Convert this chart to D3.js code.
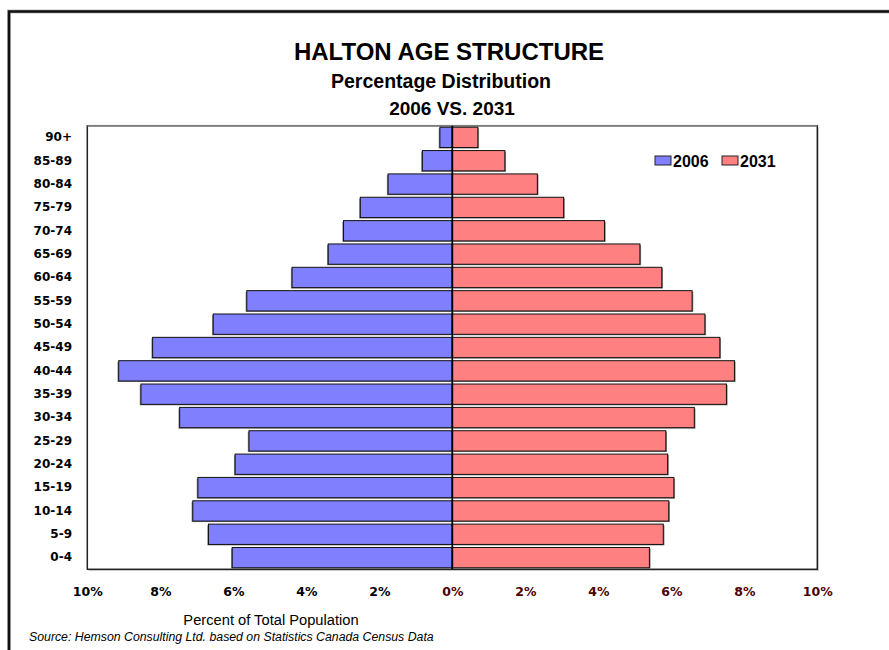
<!DOCTYPE html>
<html>
<head>
<meta charset="utf-8">
<script src="https://cdn.jsdelivr.net/npm/d3@7"></script>
<style>
  html, body { margin: 0; padding: 0; background: #fff; }
  svg { display: block; }
</style>
</head>
<body>
<svg id="chart" width="889" height="650"></svg>
<script>
// ---- Data ----
const ageGroups = ["0-4","5-9","10-14","15-19","20-24","25-29","30-34","35-39","40-44","45-49",
                   "50-54","55-59","60-64","65-69","70-74","75-79","80-84","85-89","90+"];
const values2006 = [6.03, 6.68, 7.11, 6.97, 5.95, 5.57, 7.47, 8.53, 9.14, 8.21,
                    6.55, 5.63, 4.39, 3.40, 2.98, 2.52, 1.76, 0.82, 0.34];
const values2031 = [5.40, 5.78, 5.93, 6.07, 5.90, 5.85, 6.63, 7.51, 7.73, 7.33,
                    6.92, 6.57, 5.74, 5.14, 4.17, 3.05, 2.33, 1.44, 0.70];
const seriesNames = ["2006", "2031"];
const xTicks = [-10, -8, -6, -4, -2, 0, 2, 4, 6, 8, 10];
const titleLines = ["HALTON AGE STRUCTURE", "Percentage Distribution", "2006 VS. 2031"];
const xAxisTitle = "Percent of Total Population";
const sourceText = "Source: Hemson Consulting Ltd. based on Statistics Canada Census Data";

// ---- Layout ----
const svg = d3.select("#chart");
const plot = { left: 87.3, right: 817.3, top: 125.7, bottom: 569.3 };
const colors = { "2006": "#8080FF", "2031": "#FF8080" };

const x = d3.scaleLinear().domain([-10, 10]).range([plot.left, plot.right]);
const y = d3.scaleBand()
  .domain(ageGroups.slice().reverse())
  .range([plot.top, plot.bottom])
  .paddingInner(0.13)
  .paddingOuter(0.065);

// outer frame (cropped)
svg.append("path")
  .attr("d", "M9,660 V11.5 H900")
  .attr("fill", "none")
  .attr("stroke", "#bbb")
  .attr("stroke-width", 4);
svg.append("path")
  .attr("d", "M9,660 V11.5 H900")
  .attr("fill", "none")
  .attr("stroke", "#111")
  .attr("stroke-width", 2.5);

// title
const titleFont = "'Liberation Sans', Arial, sans-serif";
svg.append("text").attr("x", 449).attr("y", 60)
  .attr("text-anchor", "middle").attr("font-family", titleFont)
  .attr("font-weight", "bold").attr("font-size", 24).attr("fill", "#000")
  .text(titleLines[0]);
svg.append("text").attr("x", 441).attr("y", 88)
  .attr("text-anchor", "middle").attr("font-family", titleFont)
  .attr("font-weight", "bold").attr("font-size", 19.5).attr("fill", "#000")
  .text(titleLines[1]);
svg.append("text").attr("x", 452).attr("y", 115)
  .attr("text-anchor", "middle").attr("font-family", titleFont)
  .attr("font-weight", "bold").attr("font-size", 19).attr("fill", "#000")
  .text(titleLines[2]);

// plot frame shadow + background
svg.append("rect")
  .attr("x", plot.left + 1.5).attr("y", plot.top + 1.5)
  .attr("width", plot.right - plot.left).attr("height", plot.bottom - plot.top)
  .attr("fill", "#c8c8c8");
svg.append("rect")
  .attr("x", plot.left).attr("y", plot.top)
  .attr("width", plot.right - plot.left).attr("height", plot.bottom - plot.top)
  .attr("fill", "#fff").attr("stroke", "#222").attr("stroke-width", 1.5);
svg.append("line")
  .attr("x1", plot.left).attr("x2", plot.right)
  .attr("y1", plot.top).attr("y2", plot.top)
  .attr("stroke", "#808080").attr("stroke-width", 1.5);

// bars
const rows = ageGroups.map((g, i) => ({ group: g, v2006: values2006[i], v2031: values2031[i] }));
const bars = svg.append("g");

// shadows
bars.selectAll("rect.s2006").data(rows).enter().append("rect")
  .attr("x", d => x(-d.v2006) - 1.2)
  .attr("y", d => y(d.group) + 1)
  .attr("width", d => x(0) - x(-d.v2006))
  .attr("height", y.bandwidth())
  .attr("fill", "#8a8a8a");
bars.selectAll("rect.s2031").data(rows).enter().append("rect")
  .attr("x", x(0) + 1.2)
  .attr("y", d => y(d.group) + 1)
  .attr("width", d => x(d.v2031) - x(0))
  .attr("height", y.bandwidth())
  .attr("fill", "#8a8a8a");

bars.selectAll("rect.b2006").data(rows).enter().append("rect")
  .attr("x", d => x(-d.v2006))
  .attr("y", d => y(d.group))
  .attr("width", d => x(0) - x(-d.v2006))
  .attr("height", y.bandwidth())
  .attr("fill", colors["2006"])
  .attr("stroke", "#111").attr("stroke-width", 1);
bars.selectAll("rect.b2031").data(rows).enter().append("rect")
  .attr("x", x(0))
  .attr("y", d => y(d.group))
  .attr("width", d => x(d.v2031) - x(0))
  .attr("height", y.bandwidth())
  .attr("fill", colors["2031"])
  .attr("stroke", "#111").attr("stroke-width", 1);

// zero line
svg.append("line")
  .attr("x1", x(0)).attr("x2", x(0))
  .attr("y1", plot.top).attr("y2", plot.bottom)
  .attr("stroke", "#000").attr("stroke-width", 1.8);

// y axis labels
const labelFont = "'DejaVu Sans', Verdana, sans-serif";
const yAxis = svg.append("g")
  .attr("transform", `translate(75,0)`)
  .call(d3.axisLeft(y).tickSize(0).tickPadding(3));
yAxis.select(".domain").remove();
yAxis.selectAll("text")
  .attr("font-family", labelFont).attr("font-weight", "bold")
  .attr("font-size", 12).attr("fill", "#000");

// x axis labels
const xAxis = svg.append("g")
  .attr("transform", `translate(0,584)`)
  .call(d3.axisBottom(x).tickValues(xTicks).tickSize(0).tickPadding(3)
    .tickFormat(d => Math.abs(d) + "%"));
xAxis.select(".domain").remove();
xAxis.selectAll("text")
  .attr("font-family", labelFont).attr("font-weight", "bold")
  .attr("font-size", 12.5)
  .attr("fill", d => d >= 0 ? "#4d0000" : "#000");

// x axis title
svg.append("text").attr("x", 271).attr("y", 625)
  .attr("text-anchor", "middle")
  .attr("font-family", "'Liberation Sans', Arial, sans-serif")
  .attr("font-size", 14.7).attr("fill", "#000")
  .text(xAxisTitle);

// source
svg.append("text").attr("x", 29).attr("y", 641)
  .attr("font-family", "'Liberation Sans', Arial, sans-serif")
  .attr("font-style", "italic")
  .attr("font-size", 12.3).attr("fill", "#000")
  .text(sourceText);

// legend
const legendItems = [
  { name: seriesNames[0], sx: 655, tx: 673 },
  { name: seriesNames[1], sx: 722, tx: 740 }
];
const legend = svg.append("g");
legendItems.forEach(it => {
  legend.append("rect")
    .attr("x", it.sx).attr("y", 156)
    .attr("width", 16).attr("height", 9)
    .attr("fill", colors[it.name])
    .attr("stroke", "#222").attr("stroke-width", 1);
  legend.append("text")
    .attr("x", it.tx).attr("y", 166.5)
    .attr("font-family", "'Liberation Sans', Arial, sans-serif")
    .attr("font-weight", "bold").attr("font-size", 16)
    .attr("fill", "#000")
    .text(it.name);
});
</script>
</body>
</html>
